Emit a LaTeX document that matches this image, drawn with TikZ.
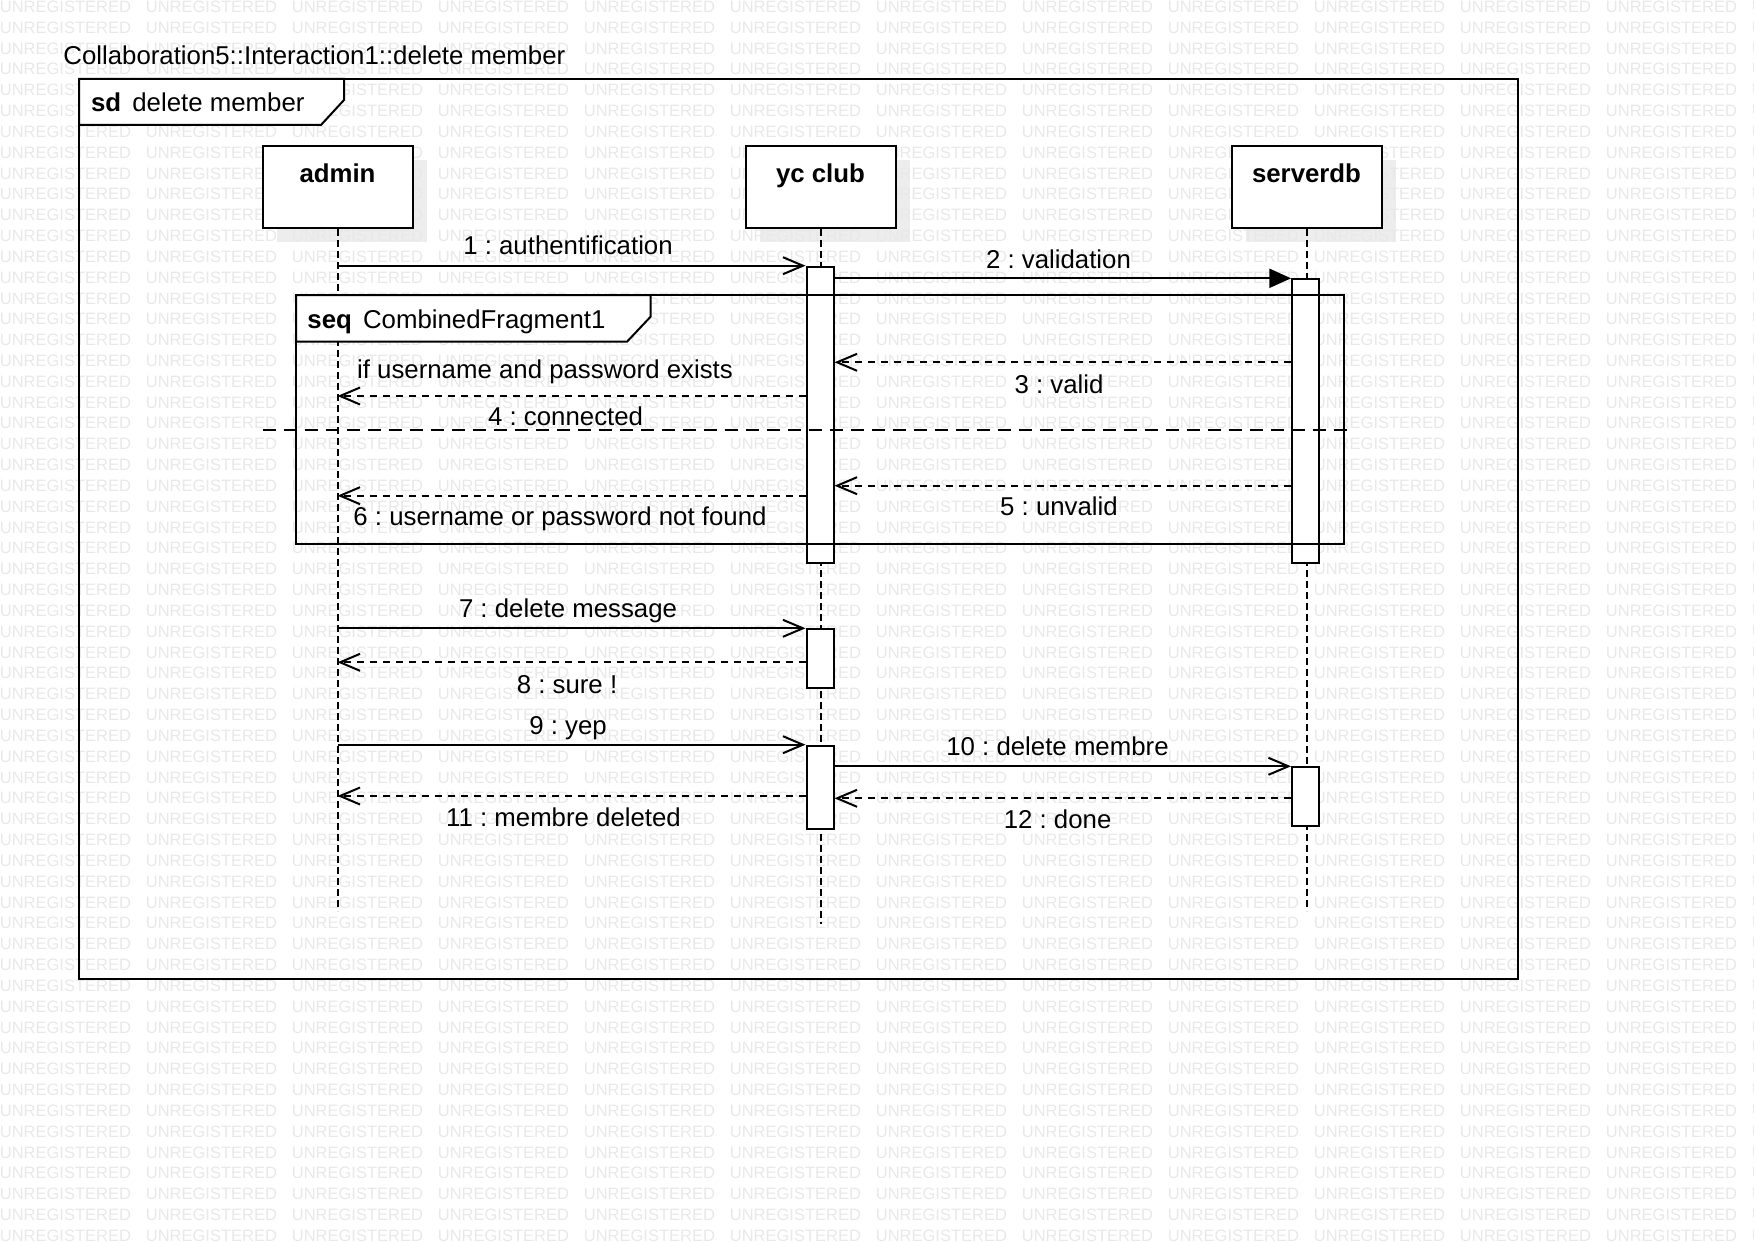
\documentclass[tikz,border=0pt]{standalone}
\usepackage{fontspec}
\setmainfont{Liberation Sans}
\usepackage{tikz}
\usetikzlibrary{arrows.meta}
\frenchspacing

\begin{document}
\begin{tikzpicture}[x=0.5pt,y=-0.5pt,
    font=\fontsize{12.9pt}{15pt}\selectfont,
    every node/.style={inner sep=0pt},
    wmark/.style={anchor=west,text=black!9,font=\fontsize{8.25pt}{10pt}\selectfont},
    lifebox/.style={rectangle,draw,fill=white,line width=1pt,minimum width=75pt,minimum height=41pt},
    act/.style={rectangle,draw,fill=white,line width=1pt,minimum width=13.5pt},
    lifeline/.style={line width=1pt,dash pattern=on 3.5pt off 2pt},
    msg/.style={line width=1pt,-{Straight Barb[length=10pt,width=8.5pt]}},
    ret/.style={msg,dash pattern=on 3.5pt off 3pt},
    call/.style={line width=1pt,-{Triangle[length=10.8pt,width=9.5pt]}},
    txt/.style={anchor=base}]

\useasboundingbox (0,0) rectangle (1754,1241);

\foreach \cx in {337.5,820.5,1306.5}
  \fill[black!7] (\cx-61,160) rectangle (\cx+89,242);

\foreach \r in {0,...,59}
  \foreach \c in {0,...,12}
    \node[wmark] (w\r-\c) at (146*\c-0.5,6.7+20.83*\r) {UNREGISTERED};

\node[anchor=base west] (title) at (63,64.3) {Collaboration5::Interaction1::delete member};

\draw[line width=1pt] (79,79) rectangle (1518,979);
\draw[line width=1pt,fill=white] (79,79) -- (344,79) -- (344,100) -- (321,125) -- (79,125) -- cycle;
\node[anchor=base west] (sd) at (90.7,112) {\textbf{sd}};
\node[anchor=base west] (sdname) at (132,112) {delete member};

\node[lifebox] (admin) at (337.5,187) {};
\node[lifebox] (ycclub) at (820.5,187) {};
\node[lifebox] (serverdb) at (1306.5,187) {};
\node[txt] (adminname) at (337.5,183) {\textbf{admin}};
\node[txt] (ycclubname) at (820.5,183) {\textbf{yc club}};
\node[txt] (serverdbname) at (1306.5,183) {\textbf{serverdb}};

\draw[lifeline] (admin.south) -- ++(0,682);
\draw[lifeline] (ycclub.south) -- ++(0,695);
\draw[lifeline] (serverdb.south) -- ++(0,682);

\node[act,minimum height=148pt] (yc1) at (820,414.7) {};
\node[act,minimum height=141.7pt] (db1) at (1305.5,421) {};
\node[act,minimum height=29.2pt] (yc2) at (820,658.5) {};
\node[act,minimum height=41.8pt] (yc3) at (820,787.5) {};
\node[act,minimum height=29.2pt] (db2) at (1305.5,796.5) {};

\draw[line width=1pt] (296,295) rectangle (1343.5,544);
\draw[line width=1pt,fill=white] (296,295) -- (650.6,295) -- (650.6,316.7) -- (627,341.7) -- (296,341.7) -- cycle;
\node[anchor=base west] (seq) at (307,328) {\textbf{seq}};
\node[anchor=base west] (seqname) at (362.7,328) {CombinedFragment1};

\coordinate (sepL) at (262.7,430);
\coordinate (sepR) at (1349,430);
\draw[line width=1pt,dash pattern=on 6.5pt off 4pt] (sepL) -- (sepR);

\coordinate (m3) at (0,362.3);
\coordinate (m4) at (0,396);
\coordinate (m5) at (0,485.7);
\coordinate (m6) at (0,495.7);
\coordinate (m8) at (0,662.3);
\coordinate (m11) at (0,796);
\coordinate (m12) at (0,798.3);

\draw[msg] (admin |- yc1.north west) -- (yc1.north west);
\draw[call] (yc1.east |- db1.north) -- (db1.north west);
\draw[ret] (db1.west |- m3) -- (yc1.east |- m3);
\draw[ret] (yc1.west |- m4) -- (admin |- m4);
\draw[ret] (db1.west |- m5) -- (yc1.east |- m5);
\draw[ret] (yc1.west |- m6) -- (admin |- m6);
\draw[msg] (admin |- yc2.north) -- (yc2.north west);
\draw[ret] (yc2.west |- m8) -- (admin |- m8);
\draw[msg] (admin |- yc3.north) -- (yc3.north west);
\draw[msg] (yc3.east |- db2.north) -- (db2.north west);
\draw[ret] (yc3.west |- m11) -- (admin |- m11);
\draw[ret] (db2.west |- m12) -- (yc3.east |- m12);

\node[txt] (l1) at (568,255) {1 : authentification};
\node[txt] (l2) at (1058.5,268.3) {2 : validation};
\node[txt] (l3) at (1059,393.3) {3 : valid};
\node[txt] (guard) at (545,378.3) {if username and password exists};
\node[txt] (l4) at (565.6,425.7) {4 : connected};
\node[txt] (l5) at (1059,515) {5 : unvalid};
\node[txt] (l6) at (560,525) {6 : username or password not found};
\node[txt] (l7) at (568,617.7) {7 : delete message};
\node[txt] (l8) at (567,693.3) {8 : sure !};
\node[txt] (l9) at (568,734) {9 : yep};
\node[txt] (l10) at (1057.5,755.7) {10 : delete membre};
\node[txt] (l11) at (563.5,826) {11 : membre deleted};
\node[txt] (l12) at (1057.6,828.3) {12 : done};
\end{tikzpicture}
\end{document}
